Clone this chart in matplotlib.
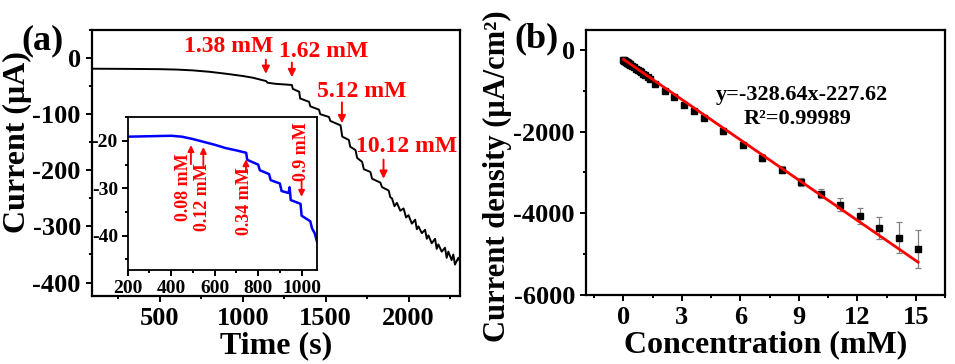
import matplotlib
matplotlib.use("Agg")
import matplotlib.pyplot as plt
from matplotlib.ticker import MultipleLocator

plt.rcParams["font.family"] = ["Liberation Serif", "DejaVu Serif"]
plt.rcParams["font.weight"] = "bold"
plt.rcParams["axes.labelweight"] = "bold"
plt.rcParams["axes.unicode_minus"] = False

# (a) amperometric trace
time_s = [90, 300, 500, 600, 700, 800, 900, 1000, 1060, 1100, 1140, 1150, 1200, 1250,
          1296, 1302, 1340, 1346, 1400, 1407, 1460, 1467, 1520, 1528, 1590, 1600,
          1640, 1648, 1680, 1690, 1720, 1730, 1770, 1780, 1830, 1840, 1880, 1890,
          1900, 1915, 1930, 1950, 1970, 1985, 2000, 2020, 2040, 2050, 2060, 2080,
          2100, 2110, 2120, 2140, 2160, 2170, 2180, 2200, 2220, 2230, 2240, 2260,
          2270, 2280, 2300, 2310]
current_ua = [-19, -19.3, -19.8, -20.5, -22, -24.5, -28, -32, -35, -38, -41, -44, -46, -47,
              -48, -55, -60, -72, -78, -86, -92, -100, -105, -112, -120, -140,
              -146, -158, -164, -178, -185, -198, -203, -215, -222, -230, -236, -248,
              -250, -264, -258, -272, -268, -284, -280, -295, -288, -305, -300, -312,
              -306, -322, -316, -330, -322, -340, -332, -345, -338, -356, -345, -360,
              -350, -368, -356, -362]

# inset
inset_time = [200, 300, 400, 450, 500, 550, 600, 650, 700, 745, 750, 800, 808, 850, 858,
              900, 908, 940, 945, 950, 995, 1000, 1040, 1048, 1060, 1072]
inset_current = [-19.1, -19.0, -18.9, -19.1, -19.6, -20.2, -20.8, -21.5, -22.0, -22.5, -24.0,
                 -25.0, -26.2, -27.0, -28.3, -29.0, -30.6, -31.0, -29.8, -32.5, -33.3, -35.8,
                 -37.0, -38.5, -39.5, -41.5]

# annotations
main_labels = ["1.38 mM", "1.62 mM", "5.12 mM", "10.12 mM"]
main_label_xy = [(917, 20), (1486, 11), (1715, -60), (1987, -158)]
main_arrows = [(1139, 2, -33), (1296, -3, -39), (1598, -74, -121), (1849, -176, -220)]

inset_labels = ["0.08 mM", "0.12 mM", "0.34 mM", "0.9 mM"]
inset_label_xy = [(459, -29.7), (545, -31.8), (739, -32.8), (1000, -22.3)]
inset_arrows = [(491, -25.5, -20.3), (548, -25.8, -20.7), (744, -27.0, -23.3), (1000, -27.5, -32.4)]

# (b) calibration
conc_mm = [0, 0.02, 0.04, 0.06, 0.08, 0.10, 0.12, 0.14, 0.16, 0.18, 0.20, 0.22, 0.24,
           0.26, 0.28, 0.30, 0.32, 0.34, 0.44, 0.54, 0.64, 0.74, 0.84, 0.9, 1.0, 1.12,
           1.25, 1.38, 1.62, 2.12, 2.62, 3.12, 3.62, 4.12, 5.12, 6.12, 7.12, 8.12, 9.12,
           10.12, 11.12, 12.12, 13.12, 14.12, 15.12]
density = [-246, -252, -258, -265, -271, -278, -284, -291, -297, -304, -310, -317, -323,
           -330, -336, -343, -349, -356, -390, -423, -456, -490, -523, -545, -578, -618,
           -660, -700, -840, -1000, -1163, -1335, -1490, -1655, -1990, -2318, -2637,
           -2932, -3235, -3522, -3784, -4070, -4365, -4603, -4873]
density_err = [20] * 28 + [30, 35, 40, 45, 50, 55, 60, 70, 80, 90, 100, 110, 150, 200,
                           265, 380, 460]
slope, intercept = -328.64, -227.62
fit_x = [0, 15.12]

RED = "#ff0000"

fig = plt.figure(figsize=(9.55, 3.64), dpi=100)
ax = fig.add_axes([0.0963, 0.1868, 0.3853, 0.7308])
axb = fig.add_axes([0.6136, 0.1896, 0.3759, 0.728])
axi = fig.add_axes([0.1337, 0.2582, 0.1985, 0.4195])


def style(a, size, pad=3):
    for s in a.spines.values():
        s.set_linewidth(1.6)
    a.tick_params(which="both", direction="out", width=1.4, labelsize=size, pad=pad)
    a.tick_params(which="major", length=4)
    a.tick_params(which="minor", length=2.5)
    for lab in a.get_xticklabels() + a.get_yticklabels():
        lab.set_fontweight("bold")


# panel (a)
ax.plot(time_s, current_ua, color="black", lw=1.4)
ax.set_xlim(90, 2310)
ax.set_ylim(-424, 50)
ax.xaxis.set_major_locator(MultipleLocator(500))
ax.xaxis.set_minor_locator(MultipleLocator(250))
ax.yaxis.set_major_locator(MultipleLocator(100))
ax.yaxis.set_minor_locator(MultipleLocator(50))
style(ax, 19, pad=4)
ax.set_xlabel("Time (s)", fontsize=23, labelpad=1)
ax.set_ylabel("Current (μA)", fontsize=23)
ax.yaxis.set_label_coords(-0.163, 0.58)
for text, (x, y) in zip(main_labels, main_label_xy):
    ax.text(x, y, text, color=RED, fontsize=17, fontweight="bold", ha="center", va="center")
for x, y0, y1 in main_arrows:
    ax.annotate("", xy=(x, y1), xytext=(x, y0),
                arrowprops=dict(arrowstyle="-|>", color=RED, lw=1.4, mutation_scale=11))

# inset
axi.plot(inset_time, inset_current, color="#0000ff", lw=1.8)
axi.set_xlim(200, 1072)
axi.set_ylim(-47.3, -15)
axi.xaxis.set_major_locator(MultipleLocator(200))
axi.xaxis.set_minor_locator(MultipleLocator(100))
axi.yaxis.set_major_locator(MultipleLocator(10))
axi.yaxis.set_minor_locator(MultipleLocator(5))
style(axi, 14)
for s in axi.spines.values():
    s.set_linewidth(1.3)
for text, (x, y) in zip(inset_labels, inset_label_xy):
    axi.text(x, y, text, color=RED, fontsize=13, fontweight="bold", rotation=90,
             ha="center", va="center")
for x, y0, y1 in inset_arrows:
    axi.annotate("", xy=(x, y1), xytext=(x, y0),
                 arrowprops=dict(arrowstyle="-|>", color=RED, lw=1.3, mutation_scale=9))

# panel (b)
axb.errorbar(conc_mm, density, yerr=density_err, fmt="s", color="black", ms=5,
             ecolor="gray", elinewidth=0.9, capsize=2.5, capthick=0.9, zorder=2)
fit_y = [slope * x + intercept for x in fit_x]
axb.plot(fit_x, fit_y, color=RED, lw=2, zorder=3)
axb.set_xlim(-1.92, 16.5)
axb.set_ylim(-6000, 490)
axb.xaxis.set_major_locator(MultipleLocator(3))
axb.xaxis.set_minor_locator(MultipleLocator(1.5))
axb.yaxis.set_major_locator(MultipleLocator(2000))
axb.yaxis.set_minor_locator(MultipleLocator(1000))
style(axb, 19, pad=4)
axb.set_xlabel("Concentration (mM)", fontsize=23, labelpad=1)
axb.set_ylabel("Current density (μA/cm²)", fontsize=22)
axb.yaxis.set_label_coords(-0.206, 0.45)
axb.text(9.18, -1106, "y=-328.64x-227.62", fontsize=16, fontweight="bold",
         ha="center", va="center")
axb.text(8.92, -1680, "R²=0.99989", fontsize=16, fontweight="bold",
         ha="center", va="center")

fig.text(0.045, 0.887, "(a)", fontsize=26, fontweight="bold", ha="center", va="center")
fig.text(0.562, 0.893, "(b)", fontsize=26, fontweight="bold", ha="center", va="center")

fig.savefig("out.png", dpi=100)
